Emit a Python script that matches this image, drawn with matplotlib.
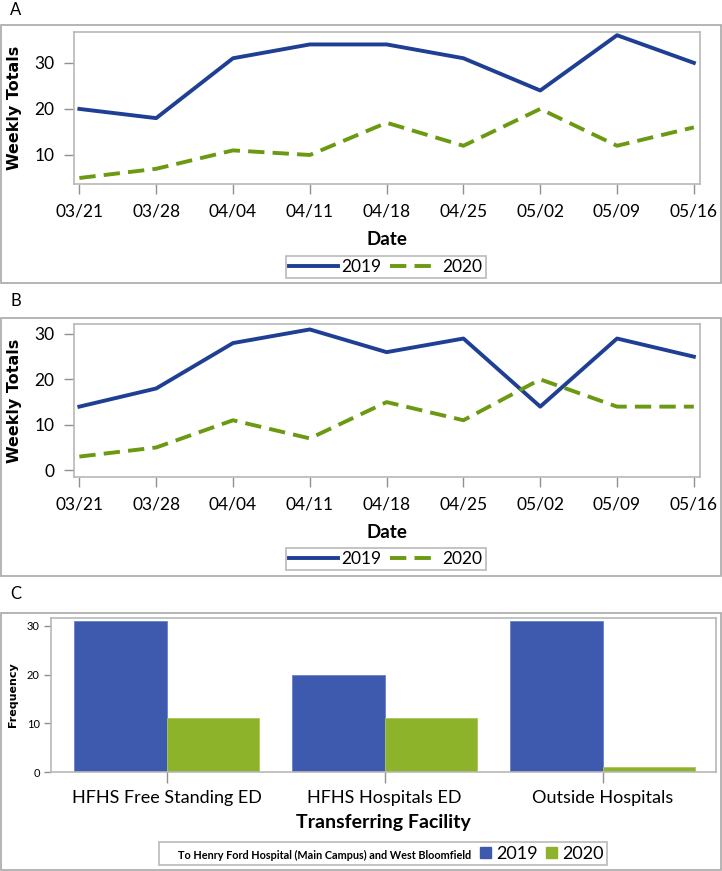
import matplotlib
matplotlib.use('Agg')
import matplotlib.pyplot as plt
from matplotlib.patches import Rectangle
import numpy as np

plt.rcParams['font.family'] = ['Lato', 'DejaVu Sans']

dates = ['03/21', '03/28', '04/04', '04/11', '04/18', '04/25', '05/02', '05/09', '05/16']
a_2019 = [20, 18, 31, 34, 34, 31, 24, 36, 30]
a_2020 = [5, 7, 11, 10, 17, 12, 20, 12, 16]
b_2019 = [14, 18, 28, 31, 26, 29, 14, 29, 25]
b_2020 = [3, 5, 11, 7, 15, 11, 20, 14, 14]
facilities = ['HFHS Free Standing ED', 'HFHS Hospitals ED', 'Outside Hospitals']
c_2019 = [31, 20, 31]
c_2020 = [11, 11, 1]

BLUE_LINE = '#1f3f94'
GREEN_LINE = '#6b9a12'
BLUE_BAR = '#3d5aae'
GREEN_BAR = '#8db32b'
GRAY = '#a8a8a8'
W, H = 722, 871

fig = plt.figure(figsize=(W / 100, H / 100), dpi=100)


def box(y0, y1):
    fig.patches.append(Rectangle((0.5 / W, 1 - y1 / H), (W - 1.5) / W, (y1 - y0) / H,
                                 transform=fig.transFigure, fill=False,
                                 edgecolor=GRAY, lw=1.2))


def ax_at(x0, x1, y0, y1):
    return fig.add_axes([x0 / W, 1 - y1 / H, (x1 - x0) / W, (y1 - y0) / H])


def style(ax):
    for s in ax.spines.values():
        s.set_color('#b8b8b8')
        s.set_linewidth(1.2)
    ax.tick_params(color='#909090', length=7, width=1, direction='out')


def line_panel(ax, y19, y20, ylim, yticks):
    x = np.arange(len(dates))
    ax.plot(x, y19, color=BLUE_LINE, lw=2.8, label='2019')
    ax.plot(x, y20, color=GREEN_LINE, lw=2.8, dashes=(4.2, 2.1), label='2020')
    ax.set_xlim(-0.07, 8.08)
    ax.set_ylim(*ylim)
    ax.set_yticks(yticks)
    ax.set_xticks(x)
    ax.set_xticklabels(dates)
    style(ax)
    ax.tick_params(labelsize=12.5, pad=7)
    ax.set_ylabel('Weekly Totals', fontsize=11.5, fontweight='bold', family='DejaVu Sans')
    ax.yaxis.set_label_coords(-0.083, 0.5)
    ax.set_xlabel('Date', fontsize=13.5, fontweight='bold')
    leg = ax.legend(loc='center', ncol=2, fontsize=12.5, frameon=True, fancybox=False,
                    handlelength=2.8, handletextpad=0.2, columnspacing=0.5,
                    borderpad=0.2, borderaxespad=0, edgecolor=GRAY)
    leg.get_frame().set_linewidth(1.2)
    return leg


# Panel A
box(25, 283)
fig.text(10 / W, 1 - 10 / H, 'A', fontsize=12, va='center')
axA = ax_at(74, 700, 32, 184)
legA = line_panel(axA, a_2019, a_2020, (3.7, 36.7), [10, 20, 30])
axA.xaxis.set_label_coords(0.5, -0.31)
legA.set_bbox_to_anchor((0.498, -0.546), transform=axA.transAxes)

# Panel B
box(318, 576)
fig.text(10 / W, 1 - 301 / H, 'B', fontsize=12, va='center')
axB = ax_at(74, 700, 324, 477)
legB = line_panel(axB, b_2019, b_2020, (-1.5, 32.2), [0, 10, 20, 30])
axB.xaxis.set_label_coords(0.5, -0.31)
legB.set_bbox_to_anchor((0.498, -0.536), transform=axB.transAxes)

# Panel C
box(613, 870)
fig.text(10 / W, 1 - 594 / H, 'C', fontsize=12, va='center')
axC = ax_at(51, 716, 618, 772)
xc = np.arange(len(facilities))
bw = 0.425
axC.bar(xc - bw / 2, c_2019, bw, color=BLUE_BAR, edgecolor='#6a82c8', lw=0.6, label='2019')
axC.bar(xc + bw / 2, c_2020, bw, color=GREEN_BAR, edgecolor='#a8c85a', lw=0.6, label='2020')
axC.set_xlim(-0.53, 2.52)
axC.set_ylim(0, 31.6)
axC.set_yticks([0, 10, 20, 30])
axC.set_xticks(xc)
axC.set_xticklabels(facilities)
style(axC)
axC.tick_params(axis='y', labelsize=8, length=5, pad=3)
axC.tick_params(axis='x', labelsize=13, length=8, pad=5)
axC.set_ylabel('Frequency', fontsize=8, fontweight='bold', family='DejaVu Sans')
axC.yaxis.set_label_coords(-0.05, 0.5)
axC.set_xlabel('Transferring Facility', fontsize=14, fontweight='bold')
axC.xaxis.set_label_coords(0.5, -0.275)

handles = [Rectangle((0, 0), 1, 1, visible=False),
           Rectangle((0, 0), 1, 1, color=BLUE_BAR),
           Rectangle((0, 0), 1, 1, color=GREEN_BAR)]
labels = ['To Henry Ford Hospital (Main Campus) and West Bloomfield', '2019', '2020']
legC = axC.legend(handles, labels, loc='center', bbox_to_anchor=(0.4995, -0.53), ncol=3,
                  fontsize=13, frameon=True, fancybox=False, handlelength=0.6,
                  handleheight=0.6, handletextpad=0.25, columnspacing=0.5,
                  borderpad=0.2, borderaxespad=0, edgecolor=GRAY)
legC.get_frame().set_linewidth(1.2)
t0 = legC.get_texts()[0]
t0.set_fontsize(7.8)
t0.set_fontweight('bold')

fig.savefig('out.png', dpi=100)
